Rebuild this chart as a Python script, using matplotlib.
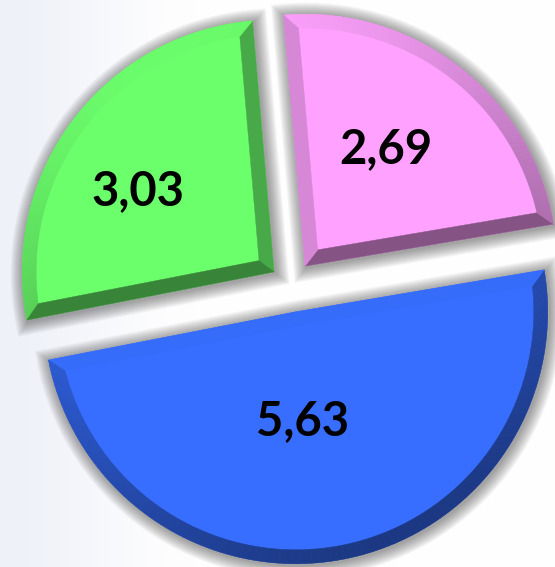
import numpy as np
import matplotlib
matplotlib.use("Agg")
import matplotlib.pyplot as plt
from matplotlib.patches import Polygon
import matplotlib.colors as mcolors

# ---- data ----
labels = ["2,69", "3,03", "5,63"]
values = [2.69, 3.03, 5.63]
colors = ["#FFA2FF", "#6CFF6C", "#376EFF"]
explode_frac = [0.092, 0.083, 0.11]
label_dist = [0.565, 0.628, 0.435]
label_shift = [3.0, 6.5, -7.0]
start_angle = 9.6

W, H = 555, 567
fig = plt.figure(figsize=(W / 100, H / 100), dpi=100)
ax = fig.add_axes([0, 0, 1, 1])

R = 252.0
C = (290.8, H - 284.5)

wedges, _ = ax.pie(values, colors=colors, startangle=start_angle, counterclock=True,
                   radius=R, center=C, explode=[e * R for e in explode_frac],
                   wedgeprops=dict(linewidth=0, zorder=3))
ax.set_xlim(0, W)
ax.set_ylim(0, H)
ax.set_aspect("equal")
ax.axis("off")

# background tint
yy, xx = np.mgrid[0:H, 0:W]
wgt = 0.6 * np.exp(-(xx / 120.0) ** 2)
bg = np.ones((H, W, 3))
tint = np.array([228, 232, 244]) / 255.0
bg = bg * (1 - wgt[..., None]) + tint * wgt[..., None]
ax.imshow(bg, extent=(0, W, 0, H), origin="lower", zorder=0, aspect="auto")


def shape(A, r, t1, t2, d, n=120):
    t1r, t2r = np.radians(t1), np.radians(t2)
    half = (t2r - t1r) / 2
    bis = t1r + half
    apex = np.array(A) + d / np.sin(half) * np.array([np.cos(bis), np.sin(bis)])
    rr = r - d
    s = np.sqrt(rr ** 2 - d ** 2)
    da = np.arctan2(d, s)
    th = np.linspace(t1r + da, t2r - da, n)
    arc = np.column_stack([A[0] + rr * np.cos(th), A[1] + rr * np.sin(th)])
    return apex, arc


L = np.array([-0.5, 1.0])
L = L / np.linalg.norm(L)
bevel = 14.0

for w, col, lab, ld, ls in zip(wedges, colors, labels, label_dist, label_shift):
    A = np.array(w.center)
    r, t1, t2 = w.r, w.theta1, w.theta2
    # soft shadow
    for k in range(13, 0, -1):
        apex, arc = shape(A + np.array([1.5, -1.5]), r, t1, t2, -k)
        ax.add_patch(Polygon(np.vstack([apex, arc]), closed=True, facecolor="#3a3a3a",
                             alpha=0.045, linewidth=0, zorder=1))
    # bevel
    pa, parc = shape(A, r, t1, t2, 0.0)
    qa, qarc = shape(A, r, t1, t2, bevel)
    base = np.array(mcolors.to_rgb(col))
    quads = [np.array([pa, parc[0], qarc[0], qa])]
    for i in range(len(parc) - 1):
        quads.append(np.array([parc[i], parc[i + 1], qarc[i + 1], qarc[i]]))
    quads.append(np.array([parc[-1], pa, qa, qarc[-1]]))
    for q in quads:
        v = q[1] - q[0]
        nrm = np.array([v[1], -v[0]])
        nrm = nrm / (np.linalg.norm(nrm) + 1e-9)
        f = 0.75 + 0.24 * float(nrm @ L)
        c = np.clip(base * f, 0, 1)
        ax.add_patch(Polygon(q, closed=True, facecolor=c, edgecolor=c, linewidth=0.3, zorder=4))
    # label
    tm = np.radians((t1 + t2) / 2 + ls)
    ax.text(A[0] + ld * r * np.cos(tm), A[1] + ld * r * np.sin(tm), lab,
            ha="center", va="center", fontsize=34, fontweight="bold",
            family=["Lato", "DejaVu Sans"], color="black", zorder=6)

fig.savefig("out.png", dpi=100)
